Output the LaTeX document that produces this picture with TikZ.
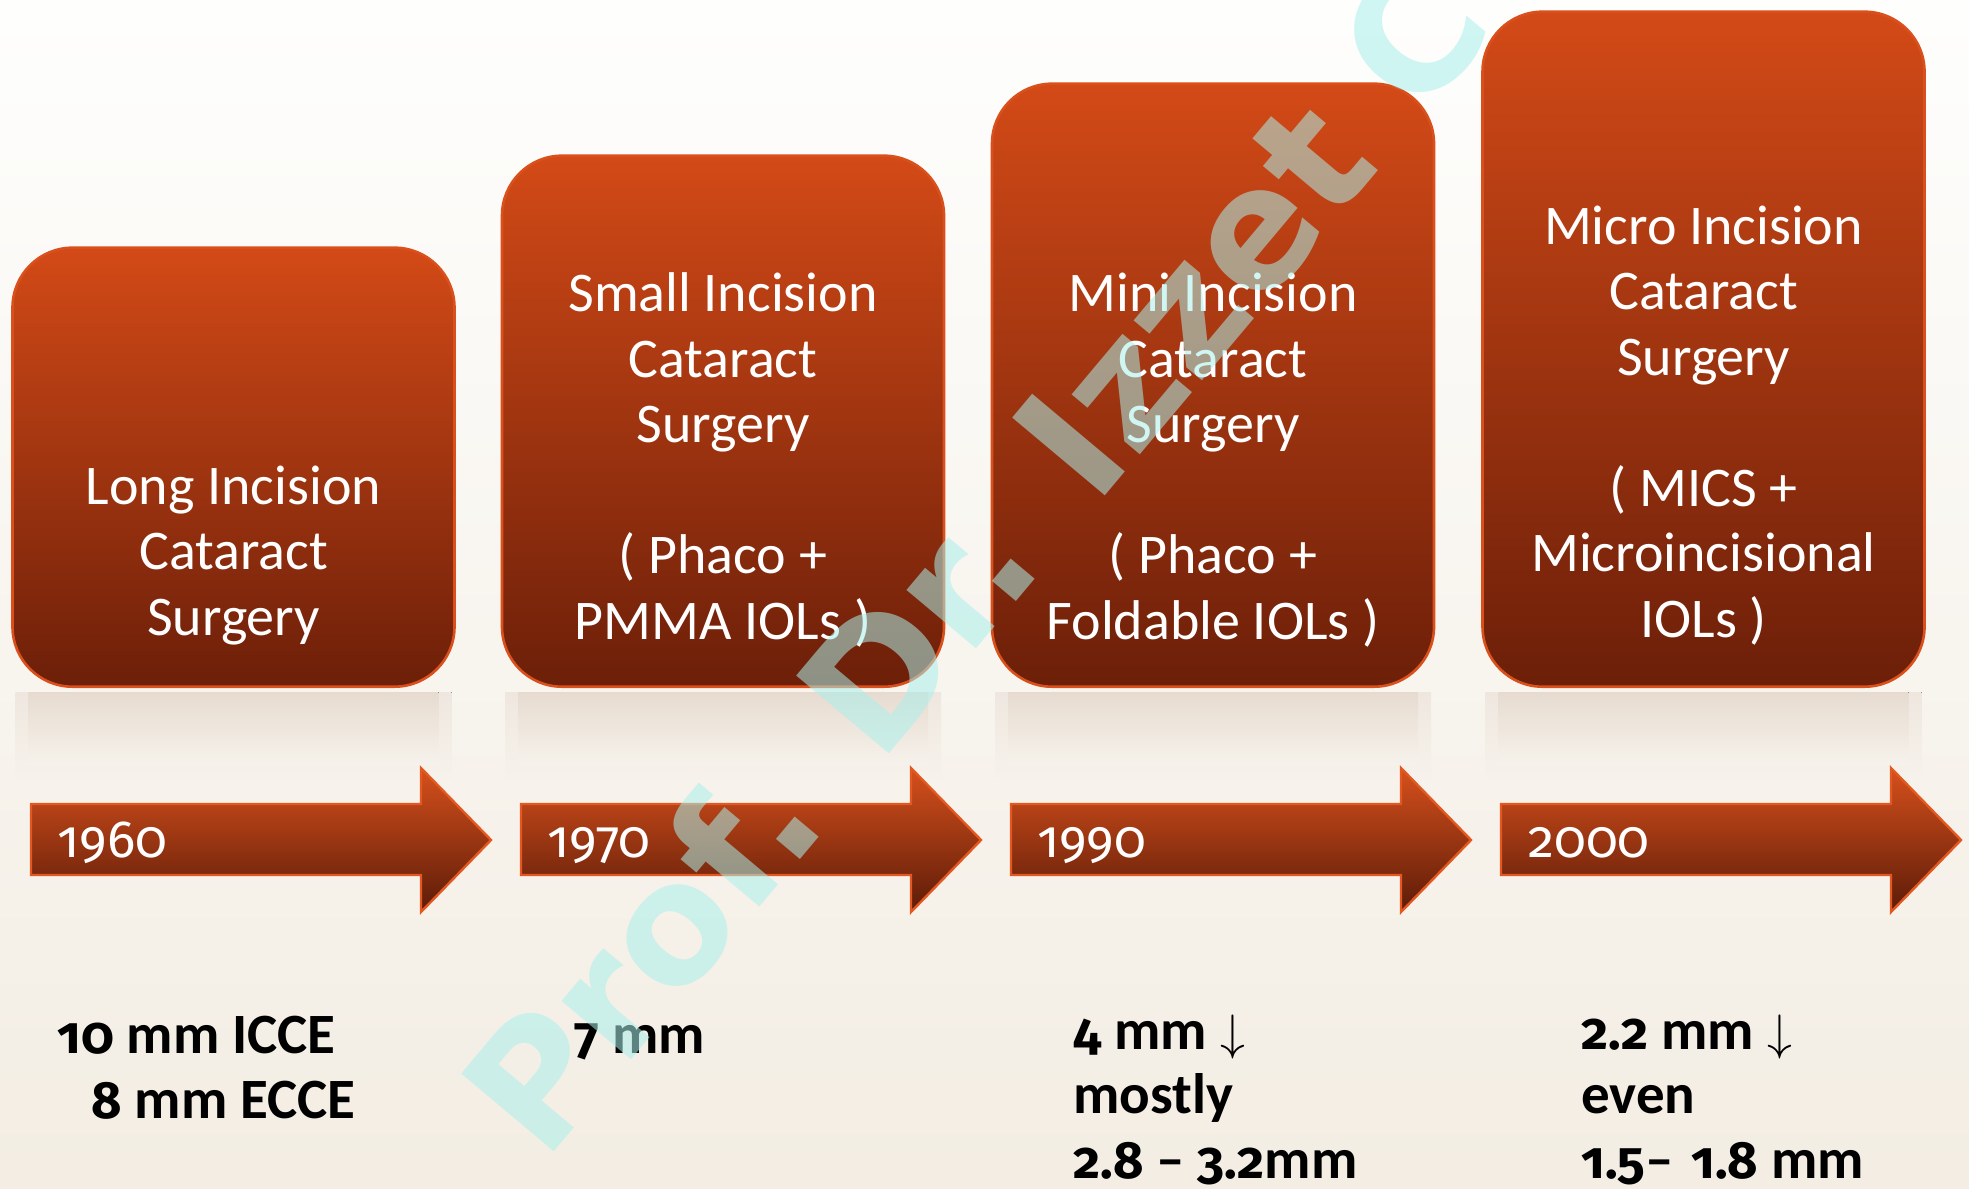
\documentclass[tikz,border=0pt]{standalone}
\usepackage{fontspec}
\setmainfont{Carlito}
\newfontfamily\osf{Fira Sans}[Numbers={OldStyle,Proportional}, Scale=0.92]
\newfontfamily\wmfont{DejaVu Sans}
\definecolor{bgtop}{RGB}{254,254,253}
\definecolor{bgbot}{RGB}{243,237,227}
\definecolor{boxtop}{RGB}{211,74,23}
\definecolor{boxbot}{RGB}{108,31,9}
\definecolor{boxedge}{RGB}{218,80,28}
\definecolor{arrtop}{RGB}{214,80,28}
\definecolor{arrmid}{RGB}{172,58,20}
\definecolor{arrbot}{RGB}{92,27,8}
\definecolor{arredge}{RGB}{226,88,32}
\definecolor{refltop}{RGB}{231,219,208}
\definecolor{refltopb}{RGB}{239,231,223}
\definecolor{reflbot}{RGB}{246,242,235}
\definecolor{wmark}{RGB}{170,240,235}
\begin{document}
\begin{tikzpicture}[x=0.5pt,y=-0.5pt,
  eraBox/.style={draw=boxedge, line width=1.3pt, rounded corners=30pt,
    top color=boxtop, bottom color=boxbot, minimum width=221pt, inner sep=0pt, anchor=south},
  eraText/.style={text=white, font=\fontsize{28}{32.75}\selectfont, align=center, anchor=base, inner sep=0pt},
  yearArrow/.style={draw=arredge, line width=1.2pt, top color=arrtop, middle color=arrmid, bottom color=arrbot},
  yearText/.style={text=white, font=\osf\fontsize{28.5}{32}\selectfont, anchor=base west, inner sep=0pt},
  sizeText/.style={font=\bfseries\fontsize{28.5}{32.25}\selectfont, align=left, anchor=base west, inner sep=0pt},
  reflect/.style={top color=refltop, bottom color=reflbot, draw=none},
  reflectOuter/.style={top color=refltopb, bottom color=reflbot, draw=none},
  wmStyle/.style={text=wmark, text opacity=0.55, font=\wmfont\bfseries\fontsize{83}{90}\selectfont, inner sep=0pt}]

\useasboundingbox (0,0) rectangle (1969,1188);
\fill[top color=bgtop, bottom color=bgbot] (0,0) rectangle (1969,1188);

% reflections
\foreach \cx in {233.5,723,1213,1703.5}{
  \fill[reflectOuter] (\cx-218,692) rectangle (\cx+218,778);
  \fill[reflect] (\cx-205,692) rectangle (\cx+205,765);
}

% era boxes
\node[eraBox, minimum height=219.5pt] (b1) at (233.5,688) {};
\node[eraBox, minimum height=265.5pt] (b2) at (723,688) {};
\node[eraBox, minimum height=301.5pt] (b3) at (1213,688) {};
\node[eraBox, minimum height=337.5pt] (b4) at (1703.5,688) {};

\node[eraText] (t1) at (233.5,635) {Long Incision\\Cataract\\Surgery};
\node[eraText] (t2) at (723,639) {Small Incision\\Cataract\\Surgery\\[32.75pt]( Phaco +\\PMMA IOLs )};
\node[eraText] (t3) at (1213,639) {Mini Incision\\Cataract\\Surgery\\[32.75pt]( Phaco +\\Foldable IOLs )};
\node[eraText] (t4) at (1703.5,637) {Micro Incision\\Cataract\\Surgery\\[32.75pt]( MICS +\\Microincisional\\IOLs )};

% timeline arrows
\foreach \dx in {0,490,980,1470}{
  \fill[yearArrow] (31+\dx,804) -- (421+\dx,804) -- (421+\dx,768) -- (491+\dx,840)
    -- (421+\dx,912) -- (421+\dx,875) -- (31+\dx,875) -- cycle;
}
\node[yearText] (y1) at (57,857) {1960};
\node[yearText] (y2) at (547,857) {1970};
\node[yearText] (y3) at (1037,857) {1990};
\node[yearText] (y4) at (1528,857) {2000};

% incision sizes
\node[sizeText] (s1) at (57,1118) {{\osf 10} mm ICCE\\\hspace*{17pt}{\osf 8} mm ECCE};
\node[sizeText] (s2) at (574,1053) {{\osf 7} mm};
\node[sizeText] (s3) at (1073,1178) {{\osf 4} mm $\downarrow$\\mostly\\{\osf 2.8} – {\osf 3.2}mm};
\node[sizeText] (s4) at (1581,1178) {{\osf 2.2} mm $\downarrow$\\even\\{\osf 1.5}–\hspace{9pt}{\osf 1.8} mm};

% watermark
\begin{scope}
\clip (0,0) rectangle (1969,1188);
\node[wmStyle, rotate=50] (wm) at (974,556) {Prof. Dr. Izzet C};
\end{scope}
\end{tikzpicture}
\end{document}
